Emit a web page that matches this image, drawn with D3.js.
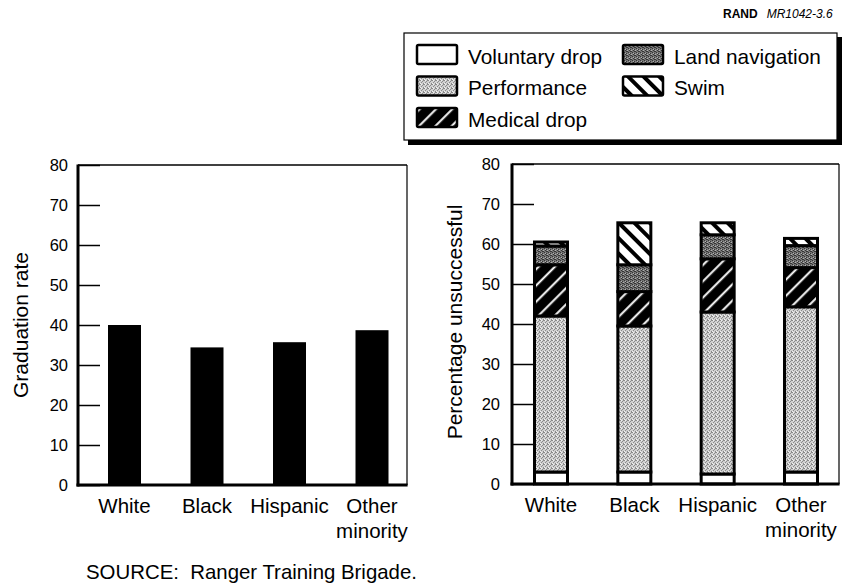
<!DOCTYPE html>
<html>
<head>
<meta charset="utf-8">
<script src="https://cdn.jsdelivr.net/npm/d3@7"></script>
<style>
  html, body { margin: 0; padding: 0; background: #fff; }
  svg { display: block; font-family: "Liberation Sans", Arial, Helvetica, sans-serif; }
</style>
</head>
<body>
<svg id="chart" width="846" height="584"></svg>
<script>
// ---------- Data ----------
const categories = ["White", "Black", "Hispanic", "Other minority"];
const graduationRate = [40, 34.4, 35.7, 38.7];

const seriesNames = ["Voluntary drop", "Performance", "Medical drop", "Land navigation", "Swim"];
const voluntaryDrop = [3, 3, 2.5, 3];
const performance = [39, 36.5, 40.5, 41.3];
const medicalDrop = [12.8, 8.6, 13.3, 9.8];
const landNavigation = [4.7, 6.7, 6.0, 5.5];
const swim = [1.0, 10.5, 3.0, 1.8];

const yTicks = [0, 10, 20, 30, 40, 50, 60, 70, 80];

// ---------- Setup ----------
const svg = d3.select("#chart");
const defs = svg.append("defs");

// Performance: light stipple
const pPerf = defs.append("pattern").attr("id", "pat-perf")
  .attr("patternUnits", "userSpaceOnUse").attr("width", 4).attr("height", 4);
pPerf.append("rect").attr("width", 4).attr("height", 4).attr("fill", "#d0d0d0");
[[0,0],[2,1],[1,2],[3,3],[3,0]].forEach(([x,y]) =>
  pPerf.append("rect").attr("x", x).attr("y", y).attr("width", 1).attr("height", 1).attr("fill", "#8a8a8a"));
[[1,0],[0,3]].forEach(([x,y]) =>
  pPerf.append("rect").attr("x", x).attr("y", y).attr("width", 1).attr("height", 1).attr("fill", "#f0f0f0"));

// Land navigation: dark stipple
const pLand = defs.append("pattern").attr("id", "pat-land")
  .attr("patternUnits", "userSpaceOnUse").attr("width", 4).attr("height", 4);
pLand.append("rect").attr("width", 4).attr("height", 4).attr("fill", "#767676");
[[0,0],[2,1],[1,2],[3,3],[2,3]].forEach(([x,y]) =>
  pLand.append("rect").attr("x", x).attr("y", y).attr("width", 1).attr("height", 1).attr("fill", "#353535"));
[[1,1],[3,2]].forEach(([x,y]) =>
  pLand.append("rect").attr("x", x).attr("y", y).attr("width", 1).attr("height", 1).attr("fill", "#b0b0b0"));

// Medical drop: black with white "/" lines
const pMed = defs.append("pattern").attr("id", "pat-med")
  .attr("patternUnits", "userSpaceOnUse").attr("width", 11.5).attr("height", 11.5)
  .attr("patternTransform", "rotate(45)");
pMed.append("rect").attr("width", 11.5).attr("height", 11.5).attr("fill", "#000");
pMed.append("rect").attr("x", 5).attr("width", 2).attr("height", 11.5).attr("fill", "#fff");

// Swim: white with black "\" lines
const pSwim = defs.append("pattern").attr("id", "pat-swim")
  .attr("patternUnits", "userSpaceOnUse").attr("width", 11).attr("height", 11)
  .attr("patternTransform", "rotate(-45)");
pSwim.append("rect").attr("width", 11).attr("height", 11).attr("fill", "#fff");
pSwim.append("rect").attr("x", 3).attr("width", 4).attr("height", 11).attr("fill", "#000");

const fills = {
  "Voluntary drop": "#fff",
  "Performance": "url(#pat-perf)",
  "Medical drop": "url(#pat-med)",
  "Land navigation": "url(#pat-land)",
  "Swim": "url(#pat-swim)"
};

// ---------- Header ----------
const hdr = svg.append("text").attr("x", 723).attr("y", 18).attr("font-size", 12);
hdr.append("tspan").attr("font-weight", "bold").text("RAND");
hdr.append("tspan").attr("dx", 9).attr("font-style", "italic").text("MR1042-3.6");

// ---------- Generic frame/axis ----------
function drawAxes(g, x0, x1, y, padding, title, titleX, titleY) {
  const ax = d3.axisLeft(y).tickValues(yTicks).tickSize(-22).tickPadding(padding).tickFormat(d3.format("d"));
  const a = g.append("g").attr("transform", `translate(${x0},0)`).call(ax);
  a.select(".domain").remove();
  a.selectAll(".tick line").attr("stroke", "#000").attr("stroke-width", 1.5);
  a.selectAll(".tick text").attr("font-size", 16.5).attr("fill", "#000")
    .attr("font-family", "'Liberation Sans', Arial, sans-serif");
  // frame
  const top = y(80), bot = y(0);
  g.append("line").attr("x1", x0).attr("x2", x1).attr("y1", top).attr("y2", top)
    .attr("stroke", "#000").attr("stroke-width", 1.3);
  g.append("line").attr("x1", x1).attr("x2", x1).attr("y1", top).attr("y2", bot)
    .attr("stroke", "#000").attr("stroke-width", 1.2);
  g.append("line").attr("x1", x0).attr("x2", x0).attr("y1", top - 0.5).attr("y2", bot + 1.5)
    .attr("stroke", "#000").attr("stroke-width", 3);
  g.append("line").attr("x1", x0 - 1.5).attr("x2", x1 + 0.6).attr("y1", bot).attr("y2", bot)
    .attr("stroke", "#000").attr("stroke-width", 3);
  g.append("text").attr("transform", `translate(${titleX},${titleY}) rotate(-90)`)
    .attr("text-anchor", "middle").attr("font-size", 21).text(title);
}

function drawCatLabels(g, xs, baseY) {
  categories.forEach(c => {
    const words = c.split(" ");
    const t = g.append("text").attr("text-anchor", "middle").attr("font-size", 20.5)
      .attr("x", xs(c)).attr("y", baseY);
    words.forEach((w, i) => {
      t.append("tspan").attr("x", xs(c)).attr("dy", i === 0 ? 0 : 25).text(w);
    });
  });
}

// ---------- Left chart: Graduation rate ----------
const L = svg.append("g");
const Lx0 = 78, Lx1 = 407;
const yL = d3.scaleLinear().domain([0, 80]).range([485, 165]);
const xL = d3.scalePoint().domain(categories).range([124.5, 372]);
const barWL = 33;

L.selectAll("rect.grad").data(categories).join("rect")
  .attr("class", "grad")
  .attr("x", d => xL(d) - barWL / 2)
  .attr("width", barWL)
  .attr("y", (d, i) => yL(graduationRate[i]))
  .attr("height", (d, i) => yL(0) - yL(graduationRate[i]))
  .attr("fill", "#000");

drawAxes(L, Lx0, Lx1, yL, 10, "Graduation rate", 28, 325);
drawCatLabels(L, xL, 513);

// ---------- Right chart: Percentage unsuccessful ----------
const R = svg.append("g");
const Rx0 = 512, Rx1 = 839;
const yR = d3.scaleLinear().domain([0, 80]).range([484, 164]);
const xR = d3.scalePoint().domain(categories).range([551, 801]);
const barWR = 33;

const rows = categories.map((c, i) => ({
  cat: c,
  "Voluntary drop": voluntaryDrop[i],
  "Performance": performance[i],
  "Medical drop": medicalDrop[i],
  "Land navigation": landNavigation[i],
  "Swim": swim[i]
}));
const stacked = d3.stack().keys(seriesNames)(rows);

stacked.forEach(layer => {
  R.selectAll(null).data(layer).join("rect")
    .attr("x", d => xR(d.data.cat) - barWR / 2)
    .attr("width", barWR)
    .attr("y", d => yR(d[1]))
    .attr("height", d => yR(d[0]) - yR(d[1]))
    .attr("fill", fills[layer.key])
    .attr("stroke", "#000")
    .attr("stroke-width", 3);
});

drawAxes(R, Rx0, Rx1, yR, 12, "Percentage unsuccessful", 462, 322);
drawCatLabels(R, xR, 512);

// ---------- Legend ----------
const Lg = svg.append("g");
Lg.append("rect").attr("x", 408).attr("y", 37).attr("width", 434).attr("height", 108).attr("fill", "#000");
Lg.append("rect").attr("x", 404).attr("y", 33).attr("width", 433).attr("height", 107)
  .attr("fill", "#fff").attr("stroke", "#000").attr("stroke-width", 1.2);

const legendPos = [
  { x: 417, y: 45 }, { x: 417, y: 76.5 }, { x: 417, y: 108 },
  { x: 623, y: 45 }, { x: 623, y: 76.5 }
];
seriesNames.forEach((name, i) => {
  const p = legendPos[i];
  Lg.append("rect").attr("x", p.x).attr("y", p.y).attr("width", 40).attr("height", 19)
    .attr("rx", 1.5).attr("fill", fills[name]).attr("stroke", "#000").attr("stroke-width", 2.5);
  Lg.append("text").attr("x", p.x + 51).attr("y", p.y + 18.5).attr("font-size", 20.8).text(name);
});

// ---------- Source ----------
svg.append("text").attr("x", 86).attr("y", 579).attr("font-size", 20.4)
  .attr("xml:space", "preserve").style("white-space", "pre")
  .text("SOURCE:  Ranger Training Brigade.");
</script>
</body>
</html>
